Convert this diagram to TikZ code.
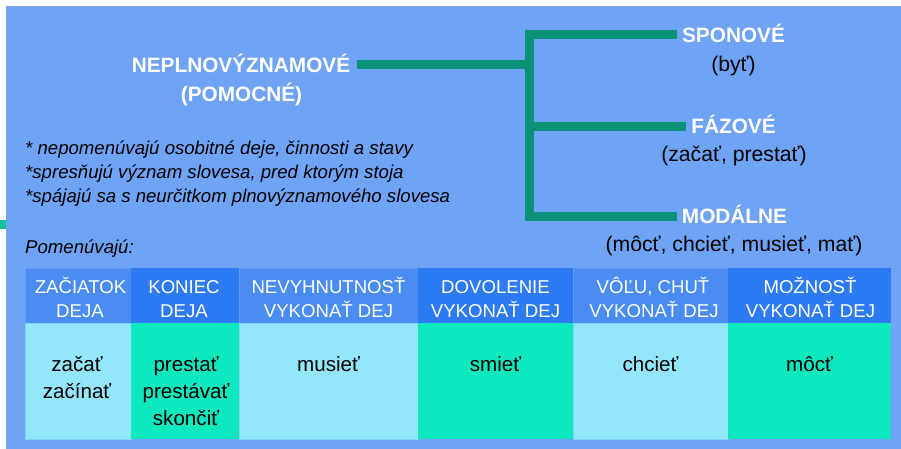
\documentclass[tikz,border=0pt]{standalone}
\usepackage{fontspec}
\setmainfont{Liberation Sans}
\definecolor{bg}{RGB}{110,163,245}
\definecolor{conn}{RGB}{10,145,119}
\definecolor{stray}{RGB}{18,194,156}
\definecolor{hlight}{RGB}{74,140,242}
\definecolor{hborder}{RGB}{92,154,246}
\definecolor{hdark}{RGB}{45,123,242}
\definecolor{blight}{RGB}{148,230,250}
\definecolor{bborder}{RGB}{120,214,246}
\definecolor{bgreen}{RGB}{13,232,191}
\begin{document}
\begin{tikzpicture}[x=1pt,y=-1pt,
  lab/.style={text=white, font=\fontsize{20.8}{25}\selectfont\bfseries, text height=14.9pt, text depth=0pt, inner ysep=0pt, inner xsep=5pt, outer sep=0pt},
  paren/.style={font=\fontsize{21.2}{25}\selectfont, anchor=base, inner sep=0pt},
  ital/.style={font=\fontsize{18.6}{22}\selectfont\itshape, anchor=base west, inner sep=0pt},
  htxt/.style={text=white, font=\fontsize{18.6}{22}\selectfont, anchor=base, inner sep=0pt},
  btxt/.style={font=\fontsize{20.6}{25}\selectfont, anchor=base, inner sep=0pt},
  connector/.style={draw=conn, line width=9pt, line join=miter, line cap=butt},
  cell/.style={anchor=north west, inner sep=0pt, outer sep=0pt, minimum height=#1},
  hl/.style={cell=55pt, fill=hlight, draw=hborder, line width=0.8pt},
  hd/.style={cell=55pt, fill=hdark},
  bl/.style={cell=116pt, fill=blight, draw=bborder, line width=0.8pt},
  bgr/.style={cell=116pt, fill=bgreen}
]
\useasboundingbox (0,0) rectangle (901,449);
\fill[bg] (6,6) rectangle (901,449);
\fill[stray] (0,220) rectangle (6,229);

% title
\node[lab, inner xsep=7pt] (neplno) at (241,65) {NEPLNOVÝZNAMOVÉ};
\node[text=white, font=\fontsize{20.8}{25}\selectfont\bfseries, anchor=base, inner sep=0pt] (pomoc) at (241.5,101.7) {(POMOCNÉ)};

% branches
\node[lab] (spon) at (733.5,35) {SPONOVÉ};
\node[paren] (byt) at (733.5,72) {(byť)};
\node[lab] (faz) at (733.5,126.5) {FÁZOVÉ};
\node[paren] (fazp) at (734,161.5) {(začať, prestať)};
\node[lab] (mod) at (734.5,216.5) {MODÁLNE};
\node[paren] (modp) at (734,251.5) {(môcť, chcieť, musieť, mať)};

\coordinate (jx) at (529.5,0);
\draw[connector] (spon.west) -| (jx |- mod.west) -- (mod.west);
\draw[connector] (jx |- faz.west) -- (faz.west);
\draw[connector] (neplno.east) -- (jx |- neplno.east);

% notes
\node[ital] (n1) at (25,154.5) {* nepomenúvajú osobitné deje, činnosti a stavy};
\node[ital] (n2) at (25,178.5) {*spresňujú význam slovesa, pred ktorým stoja};
\node[ital] (n3) at (25,202.5) {*spájajú sa s neurčitkom plnovýznamového slovesa};
\node[ital] (pomen) at (25,253) {Pomenúvajú:};

% table header
\node[hl, minimum width=106pt] (h1) at (25,268) {};
\node[hd, minimum width=108pt] (h2) at (131,268) {};
\node[hl, minimum width=179pt] (h3) at (239,268) {};
\node[hd, minimum width=155pt] (h4) at (418,268) {};
\node[hl, minimum width=155pt] (h5) at (573,268) {};
\node[hd, minimum width=163pt] (h6) at (728,268) {};
% table body
\node[bl, minimum width=106pt] (c1) at (25,323) {};
\node[bgr, minimum width=108pt] (c2) at (131,323) {};
\node[bl, minimum width=179pt] (c3) at (239,323) {};
\node[bgr, minimum width=155pt] (c4) at (418,323) {};
\node[bl, minimum width=155pt] (c5) at (573,323) {};
\node[bgr, minimum width=163pt] (c6) at (728,323) {};

% header texts
\node[htxt] (h1a) at (80.5,293.7) {ZAČIATOK};
\node[htxt] (h1b) at (80,317) {DEJA};
\node[htxt] (h2a) at (184,293.7) {KONIEC};
\node[htxt] (h2b) at (184,317) {DEJA};
\node[htxt] (h3a) at (328.5,293.7) {NEVYHNUTNOSŤ};
\node[htxt] (h3b) at (328.5,317) {VYKONAŤ DEJ};
\node[htxt] (h4a) at (495.5,293.7) {DOVOLENIE};
\node[htxt] (h4b) at (495.5,317) {VYKONAŤ DEJ};
\node[htxt] (h5a) at (653,293.7) {VÔĽU, CHUŤ};
\node[htxt] (h5b) at (654,317) {VYKONAŤ DEJ};
\node[htxt] (h6a) at (810,293.7) {MOŽNOSŤ};
\node[htxt] (h6b) at (810.5,317) {VYKONAŤ DEJ};

% body texts
\node[btxt] (t1a) at (77,371.5) {začať};
\node[btxt] (t1b) at (77,398.5) {začínať};
\node[btxt] (t2a) at (186,371.5) {prestať};
\node[btxt] (t2b) at (186,398.5) {prestávať};
\node[btxt] (t2c) at (186,425.5) {skončiť};
\node[btxt] (t3) at (328.5,371.5) {musieť};
\node[btxt] (t4) at (495.5,371.5) {smieť};
\node[btxt] (t5) at (650.5,371.5) {chcieť};
\node[btxt] (t6) at (809.5,371.5) {môcť};
\end{tikzpicture}
\end{document}
